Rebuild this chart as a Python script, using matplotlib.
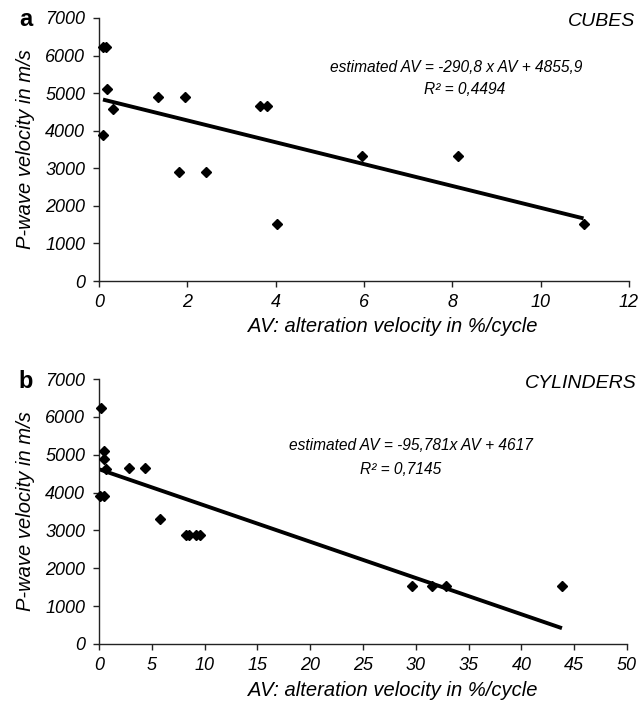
import matplotlib
matplotlib.use("Agg")
import matplotlib.pyplot as plt
import numpy as np

plt.rcParams['font.family'] = ['Liberation Sans', 'DejaVu Sans']

# Panel a: cubes
cubes_av = [0.09, 0.16, 0.17, 0.32, 0.10, 1.34, 1.94, 1.81, 2.42, 3.64, 3.80, 4.03, 5.96, 8.12, 10.97]
cubes_vp = [6230, 6230, 5100, 4580, 3890, 4890, 4890, 2900, 2900, 4650, 4650, 1520, 3330, 3330, 1520]
cubes_slope, cubes_icpt = -290.8, 4855.9

# Panel b: cylinders
cyl_av = [0.19, 0.5, 0.5, 0.7, 0.05, 0.5, 2.84, 4.36, 5.81, 8.2, 8.5, 9.2, 9.56, 29.67, 31.56, 32.83, 43.84]
cyl_vp = [6230, 5110, 4880, 4620, 3910, 3910, 4640, 4640, 3310, 2890, 2890, 2890, 2890, 1530, 1530, 1530, 1530]
cyl_slope, cyl_icpt = -95.781, 4617.0

W, H = 641, 703
fig = plt.figure(figsize=(W/100, H/100), dpi=100)

def add_ax(l, r, t, b):
    return fig.add_axes([l/W, 1-b/H, (r-l)/W, (b-t)/H])

axa = add_ax(99, 629, 18, 281)
axb = add_ax(99, 627, 379, 644)

def style(ax, xmax, xstep, xlab_x, xlab_y, ylab_x):
    ax.set_ylim(0, 7000)
    ax.set_xlim(0, xmax)
    ax.set_yticks(np.arange(0, 7001, 1000))
    ax.set_xticks(np.arange(0, xmax + 0.001, xstep))
    for s in ['top', 'right']:
        ax.spines[s].set_visible(False)
    for s in ['left', 'bottom']:
        ax.spines[s].set_color('#222222')
        ax.spines[s].set_linewidth(1.0)
    ax.tick_params(direction='out', length=4, width=1, color='#222222', labelsize=13)
    ax.tick_params(axis='x', pad=5)
    ax.tick_params(axis='y', pad=6)
    for lab in ax.get_xticklabels() + ax.get_yticklabels():
        lab.set_fontstyle('italic')
    ax.set_ylabel('P-wave velocity in m/s', fontsize=14.5, fontstyle='italic', va='center')
    ax.set_xlabel('AV: alteration velocity in %/cycle', fontsize=14.5, fontstyle='italic', va='center')
    ax.xaxis.set_label_coords(xlab_x, xlab_y)
    ax.yaxis.set_label_coords(ylab_x, 0.5)

# Panel a
style(axa, 12, 2, (393 - 99) / 530, -(326 - 281) / 263, (25 - 99) / 530)
xa = np.array([min(cubes_av), max(cubes_av)])
axa.plot(xa, cubes_slope * xa + cubes_icpt, color='black', lw=2.8, solid_capstyle='butt', zorder=2)
axa.plot(cubes_av, cubes_vp, linestyle='none', marker='D', markersize=5.5, color='black', zorder=3, clip_on=False)
fig.text(456/W, 1-68/H, 'estimated AV = -290,8 x AV + 4855,9', ha='center', va='center',
         fontsize=11.2, fontstyle='italic')
fig.text(465/W, 1-90/H, 'R² = 0,4494', ha='center', va='center', fontsize=11.2, fontstyle='italic')
fig.text(635/W, 1-21/H, 'CUBES', ha='right', va='center', fontsize=14, fontstyle='italic')
fig.text(26/W, 1-20/H, 'a', ha='center', va='center', fontsize=17, fontweight='bold')

# Panel b
style(axb, 50, 5, (393 - 99) / 528, -(690 - 644) / 265, (25 - 99) / 528)
xb = np.array([min(cyl_av), max(cyl_av)])
axb.plot(xb, cyl_slope * xb + cyl_icpt, color='black', lw=2.8, solid_capstyle='butt', zorder=2)
axb.plot(cyl_av, cyl_vp, linestyle='none', marker='D', markersize=5.5, color='black', zorder=3, clip_on=False)
fig.text(411/W, 1-445/H, 'estimated AV = -95,781x AV + 4617', ha='center', va='center',
         fontsize=11.2, fontstyle='italic')
fig.text(401/W, 1-469/H, 'R² = 0,7145', ha='center', va='center', fontsize=11.2, fontstyle='italic')
fig.text(637/W, 1-383/H, 'CYLINDERS', ha='right', va='center', fontsize=14, fontstyle='italic')
fig.text(26/W, 1-381/H, 'b', ha='center', va='center', fontsize=17, fontweight='bold')

fig.savefig('out.png', dpi=100)
